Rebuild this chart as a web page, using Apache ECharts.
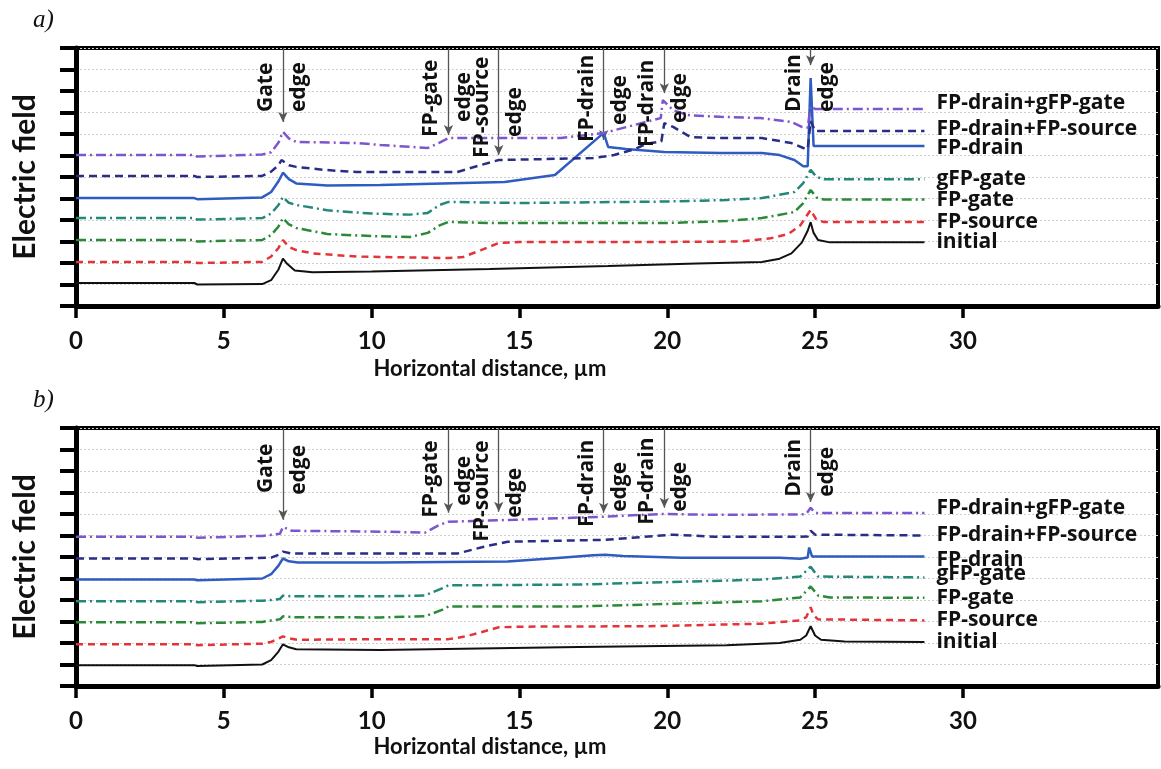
<!DOCTYPE html>
<html>
<head>
<meta charset="utf-8">
<script src="https://cdn.jsdelivr.net/npm/echarts@6/dist/echarts.min.js"></script>
<style>
html,body{margin:0;padding:0;background:#fff;}
#c{width:1161px;height:769px;}
</style>
</head>
<body>
<div id="c"></div>
<script>
// ---------- DATA ----------
const seriesNames = ['initial','FP-source','FP-gate','gFP-gate','FP-drain','FP-drain+FP-source','FP-drain+gFP-gate'];
const xTickValues = [0,5,10,15,20,25,30];

// panel a) : [x (µm), field (arb. units)]
const aInitial = [[0,1.07],[4,1.07],[4.1,1.0],[6.3,1.02],[6.6,1.2],[6.85,1.7],[7.0,2.2],[7.15,1.95],[7.4,1.65],[8,1.57],[10,1.6],[14,1.72],[18,1.86],[21,1.98],[23.2,2.05],[23.8,2.2],[24.2,2.45],[24.55,2.95],[24.75,3.5],[24.85,3.9],[24.95,3.4],[25.1,3.07],[25.5,2.96],[28.7,2.96]];
const aSource = [[0,2.05],[4,2.05],[4.1,2.0],[6.3,2.05],[6.6,2.3],[6.85,2.7],[7.0,3.07],[7.2,2.75],[7.45,2.6],[8,2.45],[9.5,2.3],[12.6,2.23],[13.1,2.28],[13.7,2.6],[14.3,2.93],[15,2.98],[20,2.98],[22.5,3.0],[23.5,3.15],[24.1,3.35],[24.5,3.75],[24.85,4.47],[25.05,4.0],[25.3,3.91],[28.7,3.91]];
const aGate = [[0,3.07],[4,3.07],[4.1,3.0],[6.3,3.07],[6.6,3.3],[6.85,3.7],[7.0,4.09],[7.2,3.8],[7.45,3.63],[8.5,3.35],[10,3.25],[11.3,3.21],[11.9,3.4],[12.3,3.75],[12.6,3.91],[14,3.86],[20,3.86],[22,3.95],[23.2,4.09],[24.3,4.37],[24.6,4.79],[24.85,5.4],[25.05,5.05],[25.3,4.95],[28.7,4.95]];
const aGGate = [[0,4.09],[4,4.09],[4.1,4.02],[6.3,4.09],[6.6,4.3],[6.85,4.7],[7.0,5.07],[7.2,4.8],[7.45,4.7],[8.5,4.45],[10,4.3],[11.3,4.25],[11.9,4.33],[12.3,4.7],[12.6,4.84],[15,4.79],[20,4.86],[22,4.93],[23.2,5.02],[24.3,5.3],[24.6,5.72],[24.85,6.33],[25.05,6.0],[25.3,5.9],[28.7,5.9]];
const aDrain = [[0,5.02],[4,5.02],[4.1,4.97],[6.3,5.05],[6.6,5.3],[6.85,5.8],[7.0,6.2],[7.2,5.9],[7.45,5.7],[8.5,5.6],[10.3,5.63],[14.5,5.77],[16.2,6.09],[17.85,8.05],[18.0,7.4],[18.6,7.3],[19.9,7.16],[21.8,7.12],[23.2,7.12],[23.8,7.02],[24.3,6.79],[24.6,6.5],[24.75,6.5],[24.85,10.6],[24.95,7.44],[28.7,7.44]];
const aDrainSource = [[0,6.05],[4,6.05],[4.1,6.0],[6.3,6.05],[6.6,6.25],[6.85,6.55],[6.95,6.79],[7.2,6.55],[7.45,6.47],[8.4,6.33],[9.5,6.23],[12.9,6.23],[13.7,6.56],[14.3,6.79],[17.5,6.88],[18.2,7.02],[18.9,7.3],[19.3,7.55],[19.8,7.65],[19.9,8.5],[20.2,8.33],[20.8,7.85],[21.8,7.81],[23.2,7.81],[24.2,7.58],[24.6,7.35],[24.75,7.3],[24.85,8.6],[25.0,8.14],[28.7,8.14]];
const aDrainGGate = [[0,7.02],[4,7.02],[4.1,6.95],[6.3,7.05],[6.6,7.15],[6.85,7.6],[7.0,8.1],[7.2,7.8],[7.45,7.63],[9.5,7.58],[10.3,7.49],[11.9,7.35],[12.3,7.6],[12.6,7.81],[16.4,7.81],[17.86,8.05],[19.78,8.74],[19.85,9.58],[20.2,9.1],[20.7,8.88],[21.8,8.8],[23.15,8.74],[24.2,8.56],[24.55,8.33],[24.75,8.3],[24.85,9.3],[25.0,9.16],[28.7,9.16]];

// panel b)
const bInitial = [[0,0.97],[4,0.97],[4.1,0.93],[6.3,1.0],[6.6,1.2],[6.85,1.6],[7.0,1.94],[7.2,1.8],[7.45,1.71],[10.3,1.67],[17,1.81],[22,1.9],[23.8,2.0],[24.5,2.15],[24.7,2.35],[24.85,2.78],[25.0,2.35],[25.2,2.15],[26,2.07],[28.7,2.05]];
const bSource = [[0,1.94],[4,1.94],[4.1,1.9],[6.3,1.97],[6.6,2.05],[6.85,2.2],[7.0,2.31],[7.2,2.22],[7.5,2.15],[10.3,2.18],[12.6,2.18],[13.2,2.31],[14.3,2.73],[15,2.76],[19.4,2.78],[23.2,2.9],[24.5,3.05],[24.7,3.2],[24.85,3.66],[24.95,3.3],[25.1,3.1],[28.7,3.05]];
const bGate = [[0,2.96],[4,2.96],[4.1,2.92],[6.3,2.98],[6.6,3.05],[6.9,3.1],[7.0,3.24],[7.3,3.2],[10.3,3.19],[11.8,3.24],[12.4,3.55],[12.6,3.7],[17,3.7],[23.2,3.94],[24.5,4.12],[24.85,4.63],[25.1,4.21],[25.5,4.12],[28.7,4.1]];
const bGGate = [[0,3.94],[4,3.94],[4.1,3.9],[6.3,3.97],[6.6,4.0],[6.9,4.05],[7.0,4.2],[7.3,4.17],[10.3,4.17],[11.8,4.21],[12.4,4.55],[12.6,4.68],[17,4.72],[23.2,4.95],[24.5,5.09],[24.85,5.55],[25.1,5.09],[28.7,5.05]];
const bDrain = [[0,4.95],[4,4.95],[4.1,4.92],[6.3,5.0],[6.6,5.2],[6.85,5.6],[7.0,5.93],[7.2,5.8],[7.5,5.74],[10.3,5.74],[14.6,5.79],[16.4,5.97],[17.5,6.08],[17.9,6.11],[18.5,6.05],[20.5,5.97],[23.8,5.97],[24.5,5.92],[24.75,5.98],[24.8,6.44],[24.9,6.02],[28.7,6.02]];
const bDrainSource = [[0,5.93],[4,5.93],[4.1,5.9],[6.6,5.97],[6.85,6.1],[7.0,6.25],[7.3,6.16],[10.3,6.16],[12.9,6.16],[13.8,6.48],[14.6,6.71],[17.9,6.8],[19.8,7.0],[20.2,7.04],[21.6,6.94],[24.5,6.94],[24.75,6.95],[24.85,7.22],[25.0,7.04],[28.7,7.0]];
const bDrainGGate = [[0,6.94],[4,6.94],[4.1,6.9],[6.3,6.98],[6.9,7.08],[7.0,7.4],[7.3,7.22],[10.3,7.18],[11.8,7.13],[12.3,7.5],[12.6,7.64],[14.8,7.73],[17.75,7.87],[19.8,8.0],[21.6,7.96],[24.5,7.98],[24.7,8.0],[24.85,8.29],[25.0,8.05],[28.7,8.05]];

// electrode-edge markers (x position in µm)
const edgeX = [7.0, 12.6, 14.3, 17.85, 19.9, 24.85];
const edgeNames = ['Gate','FP-gate','FP-source','FP-drain','FP-drain','Drain'];
const aArrowTip = [8.56, 7.95, 7.02, 7.72, 9.9, 11.2];
const bArrowTip = [7.73, 8.06, 8.1, 8.06, 8.29, 8.56];

// ---------- STYLE / LAYOUT ----------
const colors = ['#111111','#e3343a','#2a8a38','#23877a','#2f5cc0','#2a2d86','#7d55cf'];
const dashes = ['solid',[7,5],[10,4,2,4],[10,4,2,4],'solid',[8,5],[10,4,2,4]];
const widths = [2,2.5,2.5,2.5,2.5,2.5,2.5];
const aLabelDy = [0,0,0,0,2,-2,-6];
const bLabelDy = [0,0,0,-3,3,0,-5];
// text bottoms (data y) for left / right rotated labels
const aLeftBottom = [9.02,7.86,6.88,7.63,7.4,9.02];
const aRightBottom = [9.02,8.56,7.86,8.42,8.51,9.02];
const bLeftBottom = [8.98,7.82,6.71,7.4,7.5,8.8];
const bRightBottom = [8.89,8.38,7.82,8.1,8.1,8.8];

const FONT = 'Lato, "Open Sans", sans-serif';
const OS = '"Open Sans", Lato, sans-serif';
const XMAX = 36.6;

const chart = echarts.init(document.getElementById('c'), null, {renderer:'canvas'});

const gridTops = [48, 428];
const grids = gridTops.map(t => ({left:76, top:t, width:1082, height:258, show:true, borderColor:'#000', borderWidth:4, backgroundColor:'transparent', containLabel:false}));

function xAxis(i){
  return {gridIndex:i, type:'value', min:0, max:XMAX,
    axisLine:{show:true, onZero:false, lineStyle:{color:'#000', width:5}},
    axisTick:{show:true, customValues:xTickValues, length:12, lineStyle:{color:'#000', width:3.5}},
    axisLabel:{customValues:xTickValues, color:'#111', fontSize:24, fontWeight:'bold', fontFamily:FONT, margin:23},
    splitLine:{show:false}};
}
function yAxis(i){
  return {gridIndex:i, type:'value', min:0, max:12, interval:1,
    name:'Electric field', nameLocation:'middle', nameGap:36,
    nameTextStyle:{fontSize:30, fontWeight:'bold', color:'#111', fontFamily:FONT},
    axisLine:{show:true, onZero:false, lineStyle:{color:'#000', width:5}},
    axisTick:{show:true, length:16, lineStyle:{color:'#000', width:4}},
    axisLabel:{show:false},
    splitLine:{show:true, lineStyle:{color:'#cfcfcf', width:1, type:[2,2]}}};
}

const panelData = [
  [aInitial,aSource,aGate,aGGate,aDrain,aDrainSource,aDrainGGate],
  [bInitial,bSource,bGate,bGGate,bDrain,bDrainSource,bDrainGGate]
];
const tips = [aArrowTip, bArrowTip];
const labelDy = [aLabelDy, bLabelDy];

const series = [];
panelData.forEach((arrs, p) => {
  arrs.forEach((d, k) => {
    const s = {
      type:'line', name:seriesNames[k], xAxisIndex:p, yAxisIndex:p, data:d,
      showSymbol:false, symbol:'none', smooth:false, z:3+k,
      lineStyle:{color:colors[k], width:widths[k], type:dashes[k]},
      endLabel:{show:true, formatter:'{a}', color:'#111', fontSize:21, fontWeight:'bold', fontFamily:OS, distance:12, offset:[0, labelDy[p][k]]},
      animation:false
    };
    if (k === 0) {
      s.markLine = {silent:true, symbol:['none','arrow'], symbolSize:[7,10], animation:false,
        label:{show:false},
        lineStyle:{color:'#555', width:1.3, type:'solid'},
        data: edgeX.map((x, j) => [{coord:[x, 12]}, {coord:[x, tips[p][j]]}])};
    }
    series.push(s);
  });
});

chart.setOption({
  backgroundColor:'#fff',
  animation:false,
  grid:grids,
  xAxis:[xAxis(0), xAxis(1)],
  yAxis:[yAxis(0), yAxis(1)],
  series:series
});

// annotations (text) positioned through the chart's coordinate system
const graphics = [];
const lefts = [aLeftBottom, bLeftBottom];
const rights = [aRightBottom, bRightBottom];
const ANN_FONT = 'bold 21px ' + OS;
[0,1].forEach(p => {
  edgeX.forEach((x, j) => {
    const pl = chart.convertToPixel({gridIndex:p}, [x, lefts[p][j]]);
    const pr = chart.convertToPixel({gridIndex:p}, [x, rights[p][j]]);
    graphics.push({type:'text', x:pl[0]-17, y:pl[1], rotation:Math.PI/2, z:20,
      style:{text:edgeNames[j], fill:'#111', font:ANN_FONT, align:'left', verticalAlign:'middle'}});
    graphics.push({type:'text', x:pr[0]+16, y:pr[1], rotation:Math.PI/2, z:20,
      style:{text:'edge', fill:'#111', font:ANN_FONT, align:'left', verticalAlign:'middle'}});
  });
});
graphics.push({type:'text', x:490, y:369, z:20, style:{text:'Horizontal distance, µm', fill:'#111', font:'bold 22px ' + FONT, align:'center', verticalAlign:'middle'}});
graphics.push({type:'text', x:490, y:747, z:20, style:{text:'Horizontal distance, µm', fill:'#111', font:'bold 22px ' + FONT, align:'center', verticalAlign:'middle'}});
graphics.push({type:'text', x:33, y:20, z:20, style:{text:'a)', fill:'#111', font:'italic 25px "Liberation Serif", "DejaVu Serif", serif', align:'left', verticalAlign:'middle'}});
graphics.push({type:'text', x:33, y:400, z:20, style:{text:'b)', fill:'#111', font:'italic 25px "Liberation Serif", "DejaVu Serif", serif', align:'left', verticalAlign:'middle'}});
chart.setOption({graphic:graphics});
</script>
</body>
</html>
